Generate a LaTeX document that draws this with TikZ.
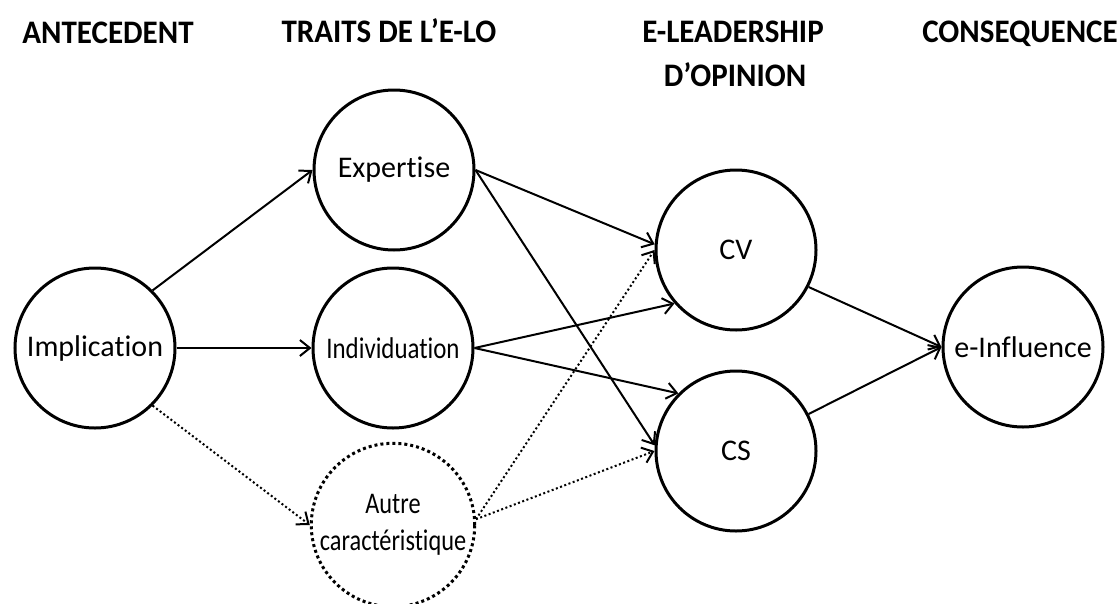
\documentclass[tikz,border=0pt]{standalone}
\usepackage{fontspec}
\setmainfont{Carlito}[Ligatures=NoCommon]
\usetikzlibrary{arrows.meta}
\begin{document}
\begin{tikzpicture}[x=1pt,y=-1pt,
  circ/.style={circle,draw,line width=3pt,minimum size=160pt,inner sep=0pt,font=\fontsize{30}{37}\selectfont,align=center},
  dcirc/.style={circ,dash pattern=on 3pt off 3pt},
  hdr/.style={font=\fontsize{31}{36}\selectfont\bfseries,anchor=base,inner sep=0pt},
  arr/.style={line width=2pt,-{Straight Barb[length=10pt,width=16pt,line width=2pt]}},
  darr/.style={arr,dash pattern=on 2pt off 2.5pt}
]
\useasboundingbox (0,0) rectangle (1120,603);
% headers
\node[hdr] (h1) at (108,43) {\scalebox{1}[1.06]{ANTECEDENT}};
\node[hdr] (h2) at (389,42) {\scalebox{1}[1.06]{TRAITS DE L’E-LO}};
\node[hdr] (h3) at (733,42) {\scalebox{1}[1.06]{E-LEADERSHIP}};
\node[hdr] (h3b) at (735,86) {\scalebox{1}[1.06]{D’OPINION}};
\node[hdr] (h4) at (1020,42) {\scalebox{1}[1.06]{CONSEQUENCE}};
% circles
\node[circ] (impl) at (95,348) {Implication};
\node[circ] (exp) at (394,170) {Expertise};
\node[circ] (ind) at (393,348) {\scalebox{0.83}[1]{Individuation}};
\node[dcirc] (aut) at (393,525) {\raisebox{7pt}{\scalebox{0.81}[1]{\begin{tabular}{@{}c@{}}Autre\\caractéristique\end{tabular}}}};
\node[circ] (cv) at (736,250) {CV};
\node[circ] (cs) at (736,451) {CS};
\node[circ] (einf) at (1023,347) {e-Influence};
% connectors
\draw[arr] (impl.45) -- (exp.west);
\draw[arr] (impl.east) -- (ind.west);
\draw[darr] (impl.-45) -- (aut.west);
\draw[arr] (exp.east) -- (cv.176);
\draw[arr] (exp.east) -- (cs.176);
\draw[arr] (ind.east) -- (cv.221);
\draw[arr] (ind.east) -- (cs.135);
\draw[darr] (aut.4) -- (cv.west);
\draw[darr] (aut.4) -- (cs.west);
\draw[arr] (cv.-27) -- (einf.west);
\draw[arr] (cs.27) -- (einf.west);
\end{tikzpicture}
\end{document}
